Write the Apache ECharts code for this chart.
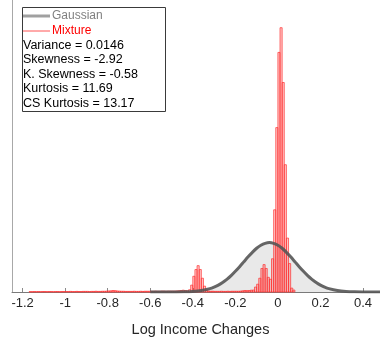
<!DOCTYPE html>
<html>
<head>
<meta charset="utf-8">
<script src="https://cdn.jsdelivr.net/npm/echarts@6/dist/echarts.min.js"></script>
<style>
  html, body { margin: 0; padding: 0; background: #fff; }
  #chart { width: 380px; height: 342px; }
</style>
</head>
<body>
<div id="chart"></div>
<script>
// tick labels on the x axis
const xTicks = [-1.2, -1, -0.8, -0.6, -0.4, -0.2, 0, 0.2, 0.4];

// mixture histogram: bins of 0.01 starting at -1.17
const binStart = -1.17;
const binWidth = 0.01;
const mixtureDensity = [
  0.02, 0.02, 0.03, 0.02, 0.03, 0.02, 0.03,
  0.03, 0.02, 0.03, 0.03, 0.02, 0.03, 0.03, 0.02, 0.03, 0.03,
  0.03, 0.03, 0.04, 0.03, 0.03, 0.04, 0.03, 0.03, 0.04, 0.04,
  0.04, 0.03, 0.04, 0.04, 0.05, 0.04, 0.04, 0.05, 0.05, 0.06,
  0.07, 0.08, 0.10, 0.09, 0.07, 0.06, 0.05, 0.05, 0.04, 0.04,
  0.04, 0.04, 0.05, 0.04, 0.04, 0.05, 0.04, 0.05, 0.05, 0.05,
  0.05, 0.05, 0.06, 0.05, 0.05, 0.06, 0.06, 0.05, 0.06, 0.06,
  0.06, 0.06, 0.07, 0.08, 0.10, 0.12, 0.10, 0.08, 0.15, 0.46,
  1.05, 1.50, 1.76, 1.50, 0.92, 0.39, 0.13, 0.06, 0.05, 0.05,
  0.04, 0.04, 0.04, 0.05, 0.04, 0.04, 0.05, 0.04, 0.05, 0.05,
  0.05, 0.05, 0.06, 0.08, 0.10, 0.09, 0.10, 0.12, 0.13, 0.33,
  0.52, 0.92, 1.57, 1.83, 1.57, 0.98, 0.85, 2.22, 5.49, 10.98,
  16.0, 17.65, 13.99, 8.5, 3.6, 1.9, 0.26, 0.13
];

// gaussian curve
const gaussX = [-0.60, -0.56, -0.52, -0.48, -0.44, -0.40, -0.36, -0.32,
  -0.30, -0.28, -0.26, -0.24, -0.22, -0.20, -0.18, -0.16, -0.14, -0.12, -0.10, -0.08, -0.06, -0.04,
  -0.02, 0.00, 0.02, 0.04, 0.06, 0.08, 0.10, 0.12, 0.14, 0.16, 0.18, 0.20, 0.22, 0.24,
  0.28, 0.32, 0.36, 0.40, 0.44, 0.48];
const gaussY = [0.0000, 0.0003, 0.0013, 0.0045, 0.014, 0.040, 0.10, 0.227,
  0.329, 0.462, 0.633, 0.843, 1.09, 1.38, 1.69, 2.02, 2.35, 2.65, 2.92, 3.12, 3.25, 3.30,
  3.25, 3.12, 2.92, 2.65, 2.35, 2.02, 1.69, 1.38, 1.09, 0.843, 0.633, 0.462, 0.329, 0.227,
  0.10, 0.040, 0.014, 0.0045, 0.0013, 0.0003];

const legendNames = ["Gaussian", "Mixture"];
const statLines = [
  "Variance = 0.0146",
  "Skewness = -2.92",
  "K. Skewness = -0.58",
  "Kurtosis = 11.69",
  "CS Kurtosis = 13.17"
];

const FONT = "'Liberation Sans', Arial, Helvetica, sans-serif";

const binData = mixtureDensity.map((v, i) => [
  binStart + i * binWidth,
  binStart + (i + 1) * binWidth,
  v
]);
const gaussData = gaussX.map((x, i) => [x, gaussY[i]]);

const chart = echarts.init(document.getElementById("chart"), null, { renderer: "canvas" });

const legendGraphics = [
  {
    type: "rect",
    shape: { x: 22.5, y: 7.5, width: 143, height: 104 },
    style: { fill: "#fff", stroke: "#3a3a3a", lineWidth: 1 },
    z: 100
  },
  {
    type: "line",
    shape: { x1: 23, y1: 16, x2: 50, y2: 16 },
    style: { stroke: "#a0a0a0", lineWidth: 3 },
    z: 101
  },
  {
    type: "line",
    shape: { x1: 23, y1: 31, x2: 50, y2: 31 },
    style: { stroke: "#ff5555", lineWidth: 1 },
    z: 101
  },
  {
    type: "text",
    x: 52, y: 16,
    style: { text: legendNames[0], fill: "#808080", font: "12px " + FONT, verticalAlign: "middle" },
    z: 101
  },
  {
    type: "text",
    x: 52, y: 31,
    style: { text: legendNames[1], fill: "#ff0000", font: "12px " + FONT, verticalAlign: "middle" },
    z: 101
  }
].concat(statLines.map((t, i) => ({
  type: "text",
  x: 23, y: 45.5 + i * 14.4,
  style: { text: t, fill: "#000", font: "12.5px " + FONT, verticalAlign: "middle" },
  z: 101
})));

chart.setOption({
  animation: false,
  backgroundColor: "#fff",
  grid: { left: 12, right: 0, top: 0, bottom: 43 },
  xAxis: {
    type: "value",
    min: -1.25,
    max: 0.48,
    name: "Log Income Changes",
    nameLocation: "middle",
    nameGap: 30,
    nameTextStyle: { fontFamily: FONT, fontSize: 14.5, color: "#262626", padding: [0, 0, 0, 9] },
    axisLine: { show: true, onZero: false, lineStyle: { color: "#7a7a7a", width: 1 } },
    axisTick: {
      show: true, inside: true, length: 4,
      customValues: xTicks,
      lineStyle: { color: "#8a8a8a" }
    },
    axisLabel: {
      customValues: xTicks,
      margin: 5,
      fontFamily: FONT, fontSize: 13, color: "#262626"
    },
    splitLine: { show: false }
  },
  yAxis: {
    type: "value",
    min: 0,
    max: 19.5,
    axisLine: { show: true, onZero: false, lineStyle: { color: "#a8a8a8", width: 1 } },
    axisTick: { show: false },
    axisLabel: { show: false },
    splitLine: { show: false }
  },
  series: [
    {
      name: "GaussianFill",
      type: "line",
      data: gaussData,
      showSymbol: false,
      smooth: 0.3,
      lineStyle: { width: 0 },
      areaStyle: { color: "#e9e9e9", opacity: 1 },
      z: 1
    },
    {
      name: "Mixture",
      type: "custom",
      data: binData,
      encode: { x: [0, 1], y: 2 },
      renderItem: (params, api) => {
        const p0 = api.coord([api.value(0), api.value(2)]);
        const p1 = api.coord([api.value(1), 0]);
        return {
          type: "rect",
          shape: { x: p0[0], y: p0[1], width: p1[0] - p0[0], height: p1[1] - p0[1] },
          style: { fill: "rgba(255,70,70,0.3)", stroke: "#ff3030", lineWidth: 0.7 }
        };
      },
      z: 2
    },
    {
      name: "Gaussian",
      type: "line",
      data: gaussData,
      showSymbol: false,
      smooth: 0.3,
      lineStyle: { color: "#555", width: 3, opacity: 0.9 },
      z: 3
    }
  ],
  graphic: legendGraphics
});
</script>
</body>
</html>
